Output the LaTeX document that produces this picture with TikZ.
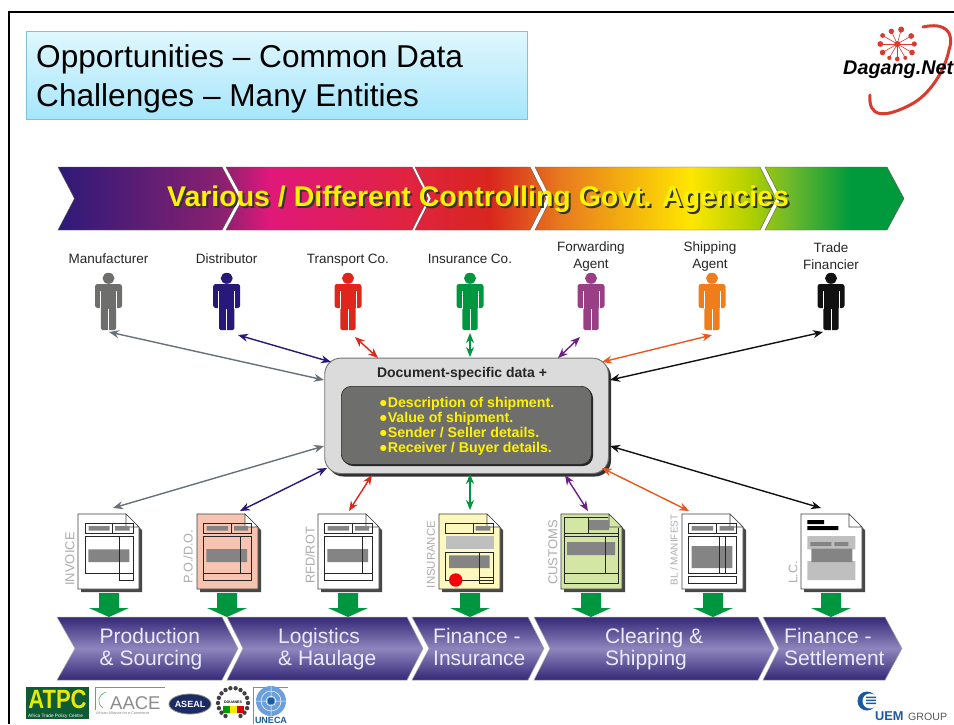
\documentclass[tikz,border=0pt]{standalone}
\usepackage{fontspec}
\usepackage{graphicx}
\setmainfont{Liberation Sans}
\usetikzlibrary{arrows.meta,calc}
\definecolor{cA}{HTML}{2E1A78}\definecolor{cB}{HTML}{8A2070}\definecolor{cC}{HTML}{E0187A}
\definecolor{cD}{HTML}{E0233F}\definecolor{cE}{HTML}{D8261E}\definecolor{cF}{HTML}{E87A1E}
\definecolor{cG}{HTML}{FFE600}\definecolor{cH}{HTML}{B0D000}\definecolor{cI}{HTML}{6CB82C}\definecolor{cJ}{HTML}{009A3C}
\definecolor{greyP}{HTML}{6E6E6C}\definecolor{navyP}{HTML}{27187A}\definecolor{redP}{HTML}{E0261C}
\definecolor{greenP}{HTML}{009640}\definecolor{mauveP}{HTML}{993F85}\definecolor{orangeP}{HTML}{EF7D1A}\definecolor{blackP}{HTML}{111111}
\definecolor{greyA}{HTML}{68707A}\definecolor{purpA}{HTML}{6B2085}\definecolor{orangeA}{HTML}{E8581E}
\definecolor{docbar}{HTML}{848484}\definecolor{doclight}{HTML}{BFBFBF}\definecolor{doctext}{HTML}{ADADAD}\definecolor{logored}{HTML}{DB3A2E}
\definecolor{uemblue}{HTML}{1A5A9E}\definecolor{chevdark}{HTML}{352878}\definecolor{chevmid}{HTML}{8F85BD}
\definecolor{titleline}{HTML}{7EC4D8}\definecolor{titletop}{HTML}{E0F7FE}\definecolor{titlebot}{HTML}{A6E6FB}
\definecolor{atpcgreen}{HTML}{0F5C34}\definecolor{docpink}{HTML}{F6C4B0}\definecolor{docyellow}{HTML}{FDF8BD}\definecolor{docgreen}{HTML}{D4E6A4}
\definecolor{asealblue}{HTML}{1C2B66}\definecolor{asealgold}{HTML}{8C8C70}\definecolor{unblue}{HTML}{6A9FDC}
\pgfdeclarehorizontalshading{topband}{100bp}{color(0bp)=(cA); color(25bp)=(cA); color(34.7bp)=(cB); color(37.5bp)=(cC); color(45.8bp)=(cD); color(50.5bp)=(cE); color(54.7bp)=(cF); color(62.4bp)=(cG); color(65.9bp)=(cH); color(68.3bp)=(cI); color(71.8bp)=(cJ); color(100bp)=(cJ)}
\tikzset{
  txt/.style={inner sep=0pt},
  biarrow/.style={{Stealth[length=10pt,width=8pt]}-{Stealth[length=10pt,width=8pt]},line width=1.4pt},
  perslbl/.style={inner sep=0pt,align=center,text=black!85,font=\fontsize{13.5}{17}\selectfont},
  chevlbl/.style={inner sep=0pt,align=left,anchor=west,text=white!92!blue,font=\fontsize{21}{22}\selectfont},
  doclbl/.style={inner sep=0pt,rotate=90,text=doctext,font=\fontsize{#1}{#1}\selectfont},
  ln/.style={draw=black!85,line width=.7pt},
}
\newcommand{\person}[2]{%
  \begin{scope}[shift={(#1,0)}]
    \fill[#2] (0,278.3) ellipse [x radius=6,y radius=5.5];
    \fill[#2,rounded corners=2.5pt] (-13.5,284) rectangle (13.5,308);
    \fill[#2,rounded corners=1.5pt] (-7.6,288) rectangle (7.6,330);
    \draw[white,line width=.6pt] (-8,291) -- (-8,309) (8,291) -- (8,309);
    \draw[white,line width=1pt] (0,309) -- (0,331);
  \end{scope}}
\newcommand{\docbase}[2]{%
  \fill[black!72] (3,3) -- (51,3) -- (64,16) -- (64,78) -- (3,78) -- cycle;
  \filldraw[fill=#1,draw=black!75,line width=.6pt] (0,0) -- (48,0) -- (61,13) -- (61,75) -- (0,75) -- cycle;
  \filldraw[fill=#2,draw=black!75,line width=.6pt] (48,0) -- (48,13) -- (61,13) -- cycle;}
\newcommand{\arrowdown}[1]{\fill[greenP] (#1-10,593) -- (#1+10,593) -- (#1+10,608) -- (#1+20,608) -- (#1,617) -- (#1-20,608) -- (#1-10,608) -- cycle;}
\begin{document}
\begin{tikzpicture}[x=1pt,y=-1pt]
\useasboundingbox (0,0) rectangle (954,724);
\fill[white] (0,0) rectangle (954,724);
% frame
\draw[line width=2.8pt,black] (9,724) -- (9,12) -- (954,12);
% title
\node[draw=titleline,line width=.7pt,top color=titletop,bottom color=titlebot,minimum height=88pt,minimum width=501pt,inner sep=0pt,anchor=north west] (title) at (26,31) {};
\node[txt,anchor=west,align=left,font=\fontsize{31.6}{39}\selectfont] (titletext) at (36,78.5) {Opportunities – Common Data\\Challenges – Many Entities};
% Dagang logo
\draw[logored,line width=3pt,line cap=round] (923,27) .. controls (945,22) and (955,32) .. (949,50) .. controls (945,70) and (930,95) .. (910,105) .. controls (885,118) and (868,118) .. (870,95);
\foreach \a/\r/\s in {0/17/2.6,30/17/2.8,60/16/2,90/15/2.4,120/16/2.1,150/17/2.8,180/17/2.9,210/17/2.4,245/14/2.7,285/15/3,330/16/2.9}{
  \draw[logored,line width=.6pt] (897.3,44) -- ++(\a:\r);
  \fill[logored] (897.3,44) ++(\a:\r) circle (\s);
}
\fill[logored] (897.3,44) circle (3);
\node[txt,anchor=base west,font=\fontsize{19.8}{20}\selectfont\bfseries\itshape] (dagang) at (843,74) {Dagang.Net};
% top band
\shadedraw[shading=topband,draw=black!65,line width=.4pt]
  (58,167) -- (222,167) -- (239,198.5) -- (222,230) -- (58,230) -- (74.5,198.5) -- cycle
  (226,167) -- (412,167) -- (428,198.5) -- (412,230) -- (226,230) -- (243,198.5) -- cycle
  (415,167) -- (530,167) -- (546,198.5) -- (530,230) -- (415,230) -- (431,198.5) -- cycle
  (535,167) -- (760,167) -- (776,198.5) -- (760,230) -- (535,230) -- (551,198.5) -- cycle
  (765,167) -- (887,167) -- (904,198.5) -- (887,230) -- (765,230) -- (781,198.5) -- cycle;
\node[txt,anchor=base,text=black!80,font=\fontsize{28.5}{29}\selectfont\bfseries] (bandshadow) at (480,208) {Various / Different Controlling Govt. Agencies};
\node[txt,anchor=base,text=yellow,font=\fontsize{28.5}{29}\selectfont\bfseries] (bandtext) at (478,206) {Various / Different Controlling Govt. Agencies};
% persons
\person{108.5}{greyP}\person{226.7}{navyP}\person{348}{redP}\person{470}{greenP}\person{591}{mauveP}\person{712}{orangeP}\person{831}{blackP}
\node[perslbl,anchor=base] (l1) at (108.5,263) {Manufacturer};
\node[perslbl,anchor=base] (l2) at (226.7,263) {Distributor};
\node[perslbl,anchor=base] (l3) at (348,263) {Transport Co.};
\node[perslbl,anchor=base] (l4) at (470,263) {Insurance Co.};
\node[perslbl] (l5) at (591,257) {Forwarding\\Agent};
\node[perslbl] (l6) at (710,257) {Shipping\\Agent};
\node[perslbl] (l7) at (831,256) {Trade\\Financier};
% hub
\fill[black!80,rounded corners=16pt] (327.5,361) rectangle (611,476.5);
\node[draw=black!55,line width=.9pt,fill=black!14,rounded corners=16pt,minimum width=283.7pt,minimum height=115.3pt,inner sep=0pt,anchor=north west] (hub) at (324.3,357.7) {};
\fill[black!85,rounded corners=10pt] (343,388) rectangle (593,466);
\node[draw=black!85,line width=.6pt,fill=greyP,rounded corners=10pt,minimum width=250pt,minimum height=78pt,inner sep=0pt,anchor=north west] (inner) at (341,386) {};
\node[txt,anchor=base,text=black!85,font=\fontsize{14}{14}\selectfont\bfseries] (hubtitle) at (462,377) {Document-specific data +};
\node[txt,anchor=north west,align=left,text=yellow,font=\fontsize{14.2}{15}\selectfont\bfseries] (facts) at (379,397.5) {●Description of shipment.\\●Value of shipment.\\●Sender / Seller details.\\●Receiver / Buyer details.};
% connector ends
\foreach \n/\x/\y in {ta/109/332,tb/238/335,tc/355/337,td/470/333,te/580/337,tf/712/335,tg/823/332,
  ha/324/380,hb/331/362,hc/378/358,hd/470/357,he/558/358,hf/602/362,hg/610/380,
  ja/324/446,jb/327/468,jc/372/475,jd/470/474,je/565/475,jf/602/468,jg/610/446,
  ba/113/508,bb/240/511,bc/349/511,bd/470/510,be/588/511,bf/689/511,bg/821/508}
  \coordinate (\n) at (\x,\y);
\draw[biarrow,greyA] (ta) -- (ha); \draw[biarrow,navyP] (tb) -- (hb); \draw[biarrow,redP] (tc) -- (hc);
\draw[biarrow,greenP] (td) -- (hd); \draw[biarrow,purpA] (te) -- (he); \draw[biarrow,orangeA] (tf) -- (hf);
\draw[biarrow,blackP] (tg) -- (hg);
\draw[biarrow,greyA] (ba) -- (ja); \draw[biarrow,navyP] (bb) -- (jb); \draw[biarrow,redP] (bc) -- (jc);
\draw[biarrow,greenP] (bd) -- (jd); \draw[biarrow,purpA] (be) -- (je); \draw[biarrow,orangeA] (bf) -- (jf);
\draw[biarrow,blackP] (bg) -- (jg);
% documents
\begin{scope}[shift={(78,514)}]\docbase{white}{white}
 \fill[docbar] (10.7,12) rectangle (31.7,16.7) (37,12) rectangle (51.7,16.7) (10.3,35.3) rectangle (51.3,48);
 \draw[ln] (7.7,9.3) rectangle (55,19.3) (34,9.3) -- (34,19.3) (7.7,22) rectangle (55,59.3) (41,22) rectangle (55,66);
\end{scope}
\begin{scope}[shift={(197,514)}]\docbase{docpink}{white}
 \fill[docbar] (9.7,12) rectangle (31,16.7) (37,12) rectangle (51,16.7) (9.3,35) rectangle (50,48);
 \draw[ln] (6,9.3) rectangle (54,19.3) (34,9.3) -- (34,19.3) (6,22) rectangle (54,66) (6,59.3) -- (54,59.3) (43,22) -- (43,59.3);
\end{scope}
\begin{scope}[shift={(318,514)}]\docbase{white}{white}
 \fill[docbar] (9.7,12) rectangle (31,16.7) (37,12) rectangle (51,16.7) (9.3,35) rectangle (50,48);
 \draw[ln] (6,9.3) rectangle (54,19.3) (34,9.3) -- (34,19.3) (6,22) rectangle (54,66) (6,59.3) -- (54,59.3) (44,22) -- (44,59.3);
\end{scope}
\begin{scope}[shift={(439,514)}]\docbase{docyellow}{white}
 \fill[docbar] (36.7,12) rectangle (51.3,16.7) (10,41.3) rectangle (50.7,54);
 \fill[doclight] (6.7,22) rectangle (54.7,35.3);
 \draw[ln] (6.7,9.3) rectangle (54,19.3) (34,9.3) -- (34,19.3) (6.7,38) rectangle (54,66) (40.7,38) rectangle (54,69.3) (40.7,63) -- (54,63);
 \fill[red!85!purple] (16.7,66) circle (6.7);
\end{scope}
\begin{scope}[shift={(561,514)}]\docbase{docgreen}{docgreen}
 \fill[docbar] (27,6) rectangle (48,16) (6,28) rectangle (54,41);
 \draw[ln] (47,3.3) -- (3.3,3.3) -- (3.3,69.3) -- (57.7,69.3) -- (57.7,14) (3.3,19.3) -- (57.7,19.3) (3.3,22) -- (57.7,22) (3.3,59.3) -- (57.7,59.3) (27,3.3) -- (27,19.3) (44,22) -- (44,59.3);
\end{scope}
\begin{scope}[shift={(682,514)}]\docbase{white}{white}
 \fill[docbar] (9.7,12) rectangle (31,16.7) (37.7,12) rectangle (52,16.7) (9.7,32) rectangle (50.3,54);
 \draw[ln] (6.7,9.3) rectangle (54.3,19.3) (34.3,9.3) -- (34.3,19.3) (6.7,22) rectangle (54.3,59.3) (37,22) -- (37,59.3) (43.7,22) -- (43.7,59.3) (6.7,62.7) rectangle (54.3,69.3);
\end{scope}
\begin{scope}[shift={(801,514)}]\docbase{white}{white}
 \fill[black] (6.3,6) rectangle (23,10) (6.3,12) rectangle (37.3,16);
 \fill[doclight] (6.3,22) rectangle (54.3,35.3) (6.3,47) rectangle (54.3,66);
 \fill[docbar] (9.3,28) rectangle (30.3,32) (33.3,28) rectangle (47.3,32) (10.3,34.7) rectangle (51.3,48);
\end{scope}
\node[doclbl=13] (d1) at (70,559) {INVOICE};
\node[doclbl=12.7] (d2) at (188,556.5) {P.O./D.O.};
\node[doclbl=12.8] (d3) at (310,555.5) {RFD/ROT};
\node[doclbl=11.4] (d4) at (431,554.5) {INSURANCE};
\node[doclbl=13] (d5) at (553,552.5) {CUSTOMS};
\node[doclbl=10] (d6) at (674,550) {BL / MANIFEST};
\node[doclbl=12.5] (d7) at (793,572.5) {L.C.};
% bottom chevrons
\shadedraw[top color=chevdark,bottom color=chevdark,middle color=chevmid,draw=black!35,line width=.5pt]
  (57,617) -- (222,617) -- (238,648.5) -- (222,680) -- (57,680) -- (75,648.5) -- cycle
  (227,617) -- (407,617) -- (423,648.5) -- (407,680) -- (227,680) -- (243,648.5) -- cycle
  (412,617) -- (528,617) -- (544,648.5) -- (528,680) -- (412,680) -- (429,648.5) -- cycle
  (534,617) -- (758,617) -- (774,648.5) -- (758,680) -- (534,680) -- (550,648.5) -- cycle
  (763,617) -- (885,617) -- (902,648.5) -- (885,680) -- (763,680) -- (779,648.5) -- cycle;
\arrowdown{109}\arrowdown{227}\arrowdown{348}\arrowdown{470}\arrowdown{591}\arrowdown{713}\arrowdown{831}
\node[chevlbl] (c1) at (99.5,649.6) {\strut Production\\\& Sourcing\strut};
\node[chevlbl] (c2) at (278,649.6) {\strut Logistics\\\& Haulage\strut};
\node[chevlbl] (c3) at (433,649.6) {\strut Finance -\\Insurance\strut};
\node[chevlbl] (c4) at (605,649.6) {\strut Clearing \&\\Shipping\strut};
\node[chevlbl] (c5) at (784,649.6) {\strut Finance -\\Settlement\strut};
% logos: ATPC
\fill[atpcgreen] (26,687) rectangle (89,719);
\node[txt,anchor=base,text=yellow!90!green,font=\fontsize{22}{22}\selectfont\bfseries] (atpc) at (57.5,708) {\scalebox{1}[1.2]{ATPC}};
\node[txt,anchor=base west,text=white,font=\fontsize{4.7}{5}\selectfont] (atpcsub) at (28,717) {Africa Trade Policy Centre};
% AACE
\draw[black!45,line width=.4pt] (95,710) -- (95,687) -- (165,687);
\draw[green!40!gray,line width=.6pt] (106,692) .. controls (98,695) and (96,703) .. (103,708);
\node[txt,anchor=base west,text=black!45,font=\fontsize{18.5}{19}\selectfont] (aace) at (110,709) {AACE};
\node[txt,anchor=base west,text=black!50,font=\fontsize{3.7}{4}\selectfont] (aacesub) at (96,714.5) {African Alliance for e-Commerce};
% ASEAL
\filldraw[fill=asealblue,draw=asealgold,line width=.8pt] (190,704) ellipse [x radius=21,y radius=10];
\node[txt,text=white,font=\fontsize{9}{9}\selectfont\bfseries] (aseal) at (190,704) {ASEAL};
% Douanes
\foreach \a in {-60,-40,...,240}{\fill[black!75] (233,703) ++(\a+180:15) circle (2.2);}
\fill[white] (233,703) circle (12);
\node[txt,font=\fontsize{3.6}{4}\selectfont\bfseries] (douanes) at (233,702) {DOUANES};
\fill[green!60!black] (223,706) rectangle (230,713);
\fill[yellow!90!orange] (230,706) rectangle (237,713);
\fill[red!85!black] (237,706) rectangle (244,713);
% UNECA
\draw[black!45,line width=.4pt] (253,724) -- (253,687) -- (288,687);
\fill[unblue] (271,701) circle (15);
\draw[white,line width=.5pt] (271,701) circle (10) (271,701) circle (5) (256,701) -- (286,701) (271,686) -- (271,716);
\fill[uemblue] (271,701) circle (3.5);
\node[txt,anchor=base,text=uemblue,font=\fontsize{9}{9}\selectfont\bfseries] (uneca) at (271,723) {UNECA};
% UEM
\fill[uemblue] (867,701) circle (9.5);
\fill[white] (870,701) circle (7.5);
\fill[uemblue] (866,696.5) rectangle (876,698) (866,699.5) rectangle (876,701) (866,702.5) rectangle (876,704);
\node[txt,anchor=base west,text=uemblue,font=\fontsize{12.8}{13}\selectfont\bfseries] (uem) at (875,720) {UEM};
\node[txt,anchor=base west,text=black!65,font=\fontsize{10.6}{11}\selectfont] (uemgroup) at (908,720) {GROUP};
\end{tikzpicture}
\end{document}
